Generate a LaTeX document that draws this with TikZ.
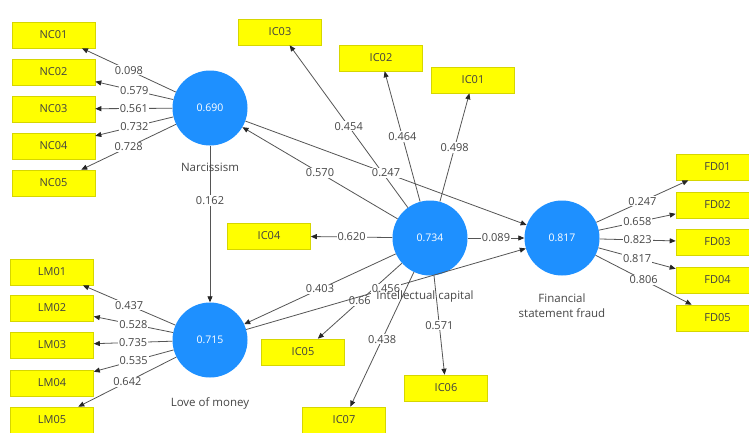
\documentclass[tikz,border=0pt]{standalone}
\usepackage{fontspec}
\setmainfont{Open Sans}
\usetikzlibrary{arrows.meta}
\definecolor{lv}{RGB}{30,144,255}
\definecolor{ind}{RGB}{255,255,0}
\definecolor{indb}{RGB}{214,214,0}
\definecolor{edgec}{RGB}{85,85,85}
\definecolor{txt}{RGB}{70,70,70}
\begin{document}
\begin{tikzpicture}[x=1pt,y=-1pt,
  lat/.style={circle,fill=lv,inner sep=0pt,minimum size=75pt,text=white,font=\fontsize{10.5}{12}\selectfont},
  box/.style={rectangle,fill=ind,draw=indb,line width=0.6pt,minimum width=83pt,minimum height=26pt,inner sep=0pt,text=black!75,font=\fontsize{11}{12}\selectfont},
  conn/.style={draw=edgec,line width=0.8pt,-{Triangle[length=6pt,width=5pt,color=black!85]}},
  lab/.style={fill=white,inner sep=1pt,text=txt,font=\fontsize{11}{12}\selectfont},
  lvname/.style={text=txt,font=\fontsize{11.5}{15}\selectfont,align=center}
]
\useasboundingbox (0,0) rectangle (749,432);
\fill[white] (0,0) rectangle (749,432);

% latent variables
\node[lat] (NAR) at (210,108) {0.690};
\node[lat] (LOM) at (210,340) {0.715};
\node[lat] (ICC) at (430,238) {0.734};
\node[lat] (FSF) at (562,238) {0.817};

% indicators
\foreach \n/\y in {1/35,2/72,3/109,4/146,5/183}{\node[box] (NC0\n) at (53.5,\y) {NC0\n};}
\foreach \n/\y in {1/272,2/308,3/345,4/383,5/420}{\node[box] (LM0\n) at (52,\y) {LM0\n};}
\foreach \n/\y in {1/167,2/205,3/242,4/280,5/318}{\node[box] (FD0\n) at (717.5,\y) {FD0\n};}
\node[box] (IC01) at (473,80) {IC01};
\node[box] (IC02) at (381,58) {IC02};
\node[box] (IC03) at (280,32) {IC03};
\node[box] (IC04) at (269,236) {IC04};
\node[box] (IC05) at (303,352) {IC05};
\node[box] (IC06) at (446,388) {IC06};
\node[box] (IC07) at (344,420) {IC07};

% outer loadings: Narcissism
\draw[conn] (NAR) -- node[lab]{0.098} (NC01);
\draw[conn] (NAR) -- node[lab]{0.579} (NC02);
\draw[conn] (NAR) -- node[lab]{0.561} (NC03);
\draw[conn] (NAR) -- node[lab]{0.732} (NC04);
\draw[conn] (NAR) -- node[lab]{0.728} (NC05);
% Love of money
\draw[conn] (LOM) -- node[lab]{0.437} (LM01);
\draw[conn] (LOM) -- node[lab]{0.528} (LM02);
\draw[conn] (LOM) -- node[lab]{0.735} (LM03);
\draw[conn] (LOM) -- node[lab]{0.535} (LM04);
\draw[conn] (LOM) -- node[lab]{0.642} (LM05);
% Financial statement fraud
\draw[conn] (FSF) -- node[lab]{0.247} (FD01);
\draw[conn] (FSF) -- node[lab]{0.658} (FD02);
\draw[conn] (FSF) -- node[lab]{0.823} (FD03);
\draw[conn] (FSF) -- node[lab]{0.817} (FD04);
\draw[conn] (FSF) -- node[lab]{0.806} (FD05);
% Intellectual capital
\draw[conn] (ICC) -- node[lab]{0.454} (IC03);
\draw[conn] (ICC) -- node[lab]{0.464} (IC02);
\draw[conn] (ICC) -- node[lab]{0.498} (IC01);
\draw[conn] (ICC) -- node[lab]{0.620} (IC04);
\draw[conn] (ICC) -- node[lab]{0.438} (IC07);
\draw[conn] (ICC) -- node[lab]{0.571} (IC06);

% structural paths
\draw[conn] (ICC) -- node[lab]{0.570} (NAR);
\draw[conn] (NAR) -- node[lab]{0.247} (FSF);
\draw[conn] (NAR) -- node[lab,pos=0.35]{0.162} (LOM);
\draw[conn] (ICC) -- node[lab]{0.403} (LOM);
\draw[conn] (ICC) -- node[lab]{0.089} (FSF);
\draw[conn] (ICC) -- node[lab]{0.66} (IC05);
\draw[conn] (LOM) -- node[lab]{0.456} (FSF);

% names
\node[lvname] (NARn) at (210,167) {Narcissism};
\node[lvname] (LOMn) at (210,403) {Love of money};
\node[lvname] (ICCn) at (425,297) {Intellectual capital};
\node[lvname] (FSFn) at (562,306) {Financial\\statement fraud};
\end{tikzpicture}
\end{document}
